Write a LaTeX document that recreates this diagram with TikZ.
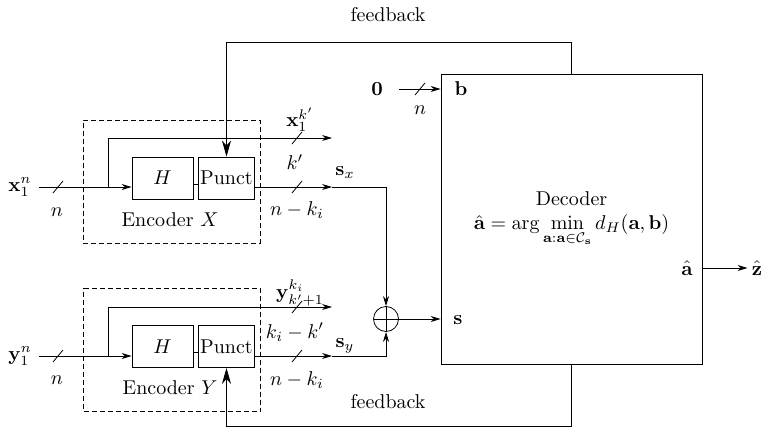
\documentclass[tikz,border=0pt]{standalone}
\usepackage{amsmath}
\usepackage{tikz}
\usetikzlibrary{positioning,arrows.meta}

\begin{document}
\begin{tikzpicture}[x=0.5pt, y=-0.5pt,
  blk/.style={draw, inner sep=1pt, minimum width=30.5pt, minimum height=21pt},
  encbox/.style={draw, dash pattern=on 2.5pt off 1.5pt, minimum width=88.5pt, minimum height=61.5pt},
  arr/.style={-{Stealth[length=5pt, width=3pt]}},
  fb/.style={-{Stealth[length=8pt, width=4.5pt, inset=2.5pt]}},
  xorc/.style={draw, circle, minimum size=12.5pt, inner sep=0pt,
    path picture={\draw (path picture bounding box.north) -- (path picture bounding box.south)
      (path picture bounding box.west) -- (path picture bounding box.east);}}]
\useasboundingbox (0,0) rectangle (763,427);
% encoders
\node[encbox] (encx) at (171.5,181.5) {};
\node[encbox] (ency) at (172,350) {};
\node[blk] (hx) at (162.5,178) {$H$};
\node[blk, minimum width=27.5pt] (px) at (226.5,178) {Punct};
\node[blk] (hy) at (162.5,346.5) {$H$};
\node[blk, minimum width=27.5pt] (py) at (226.5,346.5) {Punct};
\node (lencx) at (170,220) {Encoder $X$};
\node (lency) at (170,388) {Encoder $Y$};
% decoder
\node[draw, minimum width=130.5pt, minimum height=145pt, align=center] (dec) at (571.5,219)
  {Decoder\\ $\hat{\mathbf{a}} = \arg\min\limits_{\mathbf{a}:\mathbf{a}\in\mathcal{C}_{\mathbf{s}}} d_H(\mathbf{a},\mathbf{b})$};
\node[xorc] (xor) at (386,319) {};
% inputs and outputs
\node (xin) at (20,187) {$\mathbf{x}_1^n$};
\node (yin) at (20,356) {$\mathbf{y}_1^n$};
\node (zero) at (377,89) {$\mathbf{0}$};
\node (bin) at (461,89) {$\mathbf{b}$};
\node (sin) at (458,320) {$\mathbf{s}$};
\node (aout) at (687,268) {$\hat{\mathbf{a}}$};
\node[inner sep=2pt] (zout) at (757,268) {$\hat{\mathbf{z}}$};
\node (fbtop) at (388,15) {feedback};
\node (fbbot) at (388,402) {feedback};
% line labels
\node (lxk) at (300,120) {$\mathbf{x}_1^{k'}$};
\node (lkp) at (295,162) {$k'$};
\node (lsx) at (345,173) {$\mathbf{s}_x$};
\node (lnkx) at (297,210) {$n-k_i$};
\node (lyk) at (300,293) {$\mathbf{y}_{k'+1}^{k_i}$};
\node (lkk) at (295,332) {$k_i-k'$};
\node (lsy) at (345,346) {$\mathbf{s}_y$};
\node (lnky) at (297,380) {$n-k_i$};
\node (lnx) at (57,212) {$n$};
\node (lny) at (57,380) {$n$};
\node (lnz) at (420,110) {$n$};
\coordinate (bx) at (108,187);
\coordinate (tx) at (332,138);
\coordinate (sx) at (332,187);
\coordinate (by) at (108,356);
\coordinate (ty) at (332,307);
\coordinate (sy) at (332,356);
% connectors
\draw[arr] (xin) -- (xin -| hx.west);
\draw[arr] (bx) |- (tx);
\draw ([yshift=-3pt]hx.east) -- ([yshift=-3pt]px.west);
\draw[arr] (px.east |- xin) -- (sx);
\draw[arr] (sx) -| (xor.north);
\draw[arr] (yin) -- (yin -| hy.west);
\draw[arr] (by) |- (ty);
\draw ([yshift=-3pt]hy.east) -- ([yshift=-3pt]py.west);
\draw[arr] (py.east |- yin) -- (sy);
\draw[arr] (sy) -| (xor.south);
\draw[arr] (xor.east) -- (xor.east -| dec.west);
\draw[arr, shorten <=4.5pt] (zero) -- (zero -| dec.west);
\draw[arr] (dec.east |- aout) -- (zout);
\draw[fb] (dec.north) -- ++(0,-31) -| (px.north);
\draw[fb] (dec.south) -- ++(0,62) -| (py.south);
% bus slashes
\foreach \p in {(58,187),(297,138),(297,187),(58,356),(297,307),(297,356),(420,89)}
  \draw \p ++(-5,6) -- ++(10,-12);
\end{tikzpicture}
\end{document}
